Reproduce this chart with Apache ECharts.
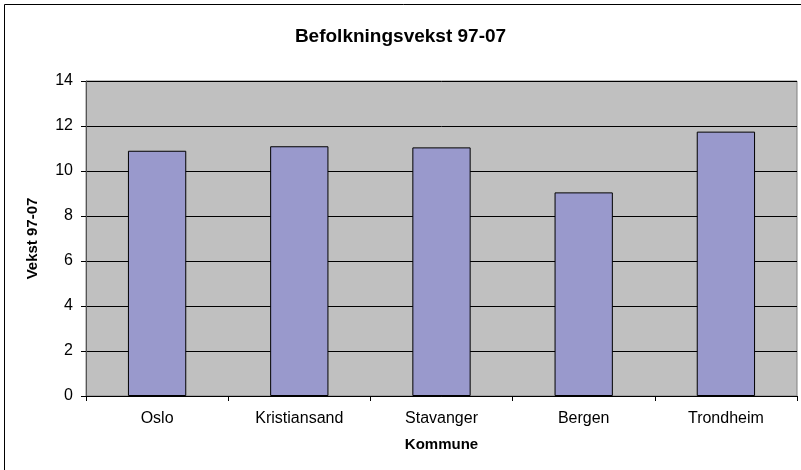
<!DOCTYPE html>
<html>
<head>
<meta charset="utf-8">
<script src="https://cdn.jsdelivr.net/npm/echarts@6/dist/echarts.min.js"></script>
<style>
  html, body { margin: 0; padding: 0; background: #fff; }
  #chart { width: 801px; height: 470px; }
</style>
</head>
<body>
<div id="chart"></div>
<script>
// kommuner og vekst 1997-2007
const kommuner = ['Oslo', 'Kristiansand', 'Stavanger', 'Bergen', 'Trondheim']
const vekst = [10.9, 11.1, 11.05, 9.05, 11.75]
const yTicks = [0, 2, 4, 6, 8, 10, 12, 14]

const font = '"Liberation Sans", Arial, sans-serif'

const chart = echarts.init(document.getElementById('chart'))
chart.setOption({
  animation: false,
  textStyle: { fontFamily: font },
  title: {
    text: 'Befolkningsvekst 97-07',
    left: 'center',
    top: 22,
    textStyle: { fontFamily: font, fontSize: 19, fontWeight: 'bold', color: '#000' }
  },
  graphic: [{
    type: 'rect',
    shape: { x: 4.5, y: 4.5, width: 820, height: 480 },
    style: { fill: 'none', stroke: '#000', lineWidth: 1 },
    silent: true
  }],
  grid: {
    left: 86, top: 81, right: 4, bottom: 74,
    show: true,
    backgroundColor: '#C0C0C0',
    borderColor: '#808080',
    borderWidth: 1
  },
  xAxis: {
    type: 'category',
    data: kommuner,
    name: 'Kommune',
    nameLocation: 'middle',
    nameGap: 41,
    nameTextStyle: { fontFamily: font, fontSize: 15, fontWeight: 'bold', color: '#000' },
    axisLine: { lineStyle: { color: '#000', width: 1 } },
    axisTick: { show: true, length: 5, lineStyle: { color: '#000' } },
    axisLabel: { fontFamily: font, fontSize: 16, color: '#000', margin: 15 }
  },
  yAxis: {
    type: 'value',
    min: yTicks[0],
    max: yTicks[yTicks.length - 1],
    interval: 2,
    name: 'Vekst 97-07',
    nameLocation: 'middle',
    nameRotate: 90,
    nameGap: 46,
    nameTextStyle: { fontFamily: font, fontSize: 15, fontWeight: 'bold', color: '#000' },
    axisLine: { show: true, lineStyle: { color: '#555', width: 1 } },
    axisTick: { show: true, length: 5, lineStyle: { color: '#000' } },
    axisLabel: { fontFamily: font, fontSize: 16, color: '#000', margin: 13 },
    splitLine: { show: true, lineStyle: { color: '#000', width: 1 } }
  },
  series: [{
    type: 'bar',
    data: vekst,
    barWidth: '41%',
    itemStyle: { color: '#9999CC', borderColor: '#000', borderWidth: 1 }
  }]
})
</script>
</body>
</html>
